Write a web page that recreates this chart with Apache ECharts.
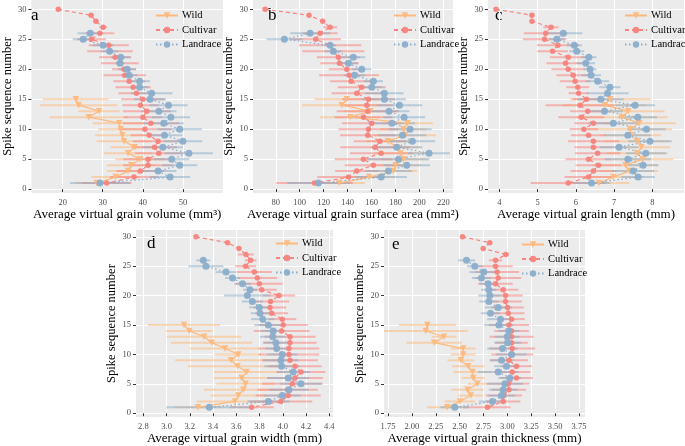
<!DOCTYPE html>
<html><head><meta charset="utf-8">
<script src="https://cdn.jsdelivr.net/npm/echarts@6/dist/echarts.min.js"></script>
<style>html,body{margin:0;padding:0;background:#fff}#c{width:685px;height:446px}</style>
</head><body><div id="c"></div>
<script>
// ---- spike sequence numbers (y values) ----
const spikeCultivar = [30,29,28,27,26,25,24,23,22,21,20,19,18,17,16,15,14,13,12,11,10,9,8,7,6,5,4,3,2,1];
const spikeLandrace = [26,25,24,23,22,21,20,19,18,17,16,15,14,13,12,11,10,9,8,7,6,5,4,3,2,1];
const spikeWild = [15,14,13,12,11,10,9,8,7,6,5,4,3,2,1];
const spikeTicks = [0,5,10,15,20,25,30];

// ---- a: volume ----
const volCultivar = [18.9,27.1,28.3,30.1,29.3,27.2,31.5,31.8,33.1,34.3,35.3,35.5,36.6,37.6,38.4,40.0,39.4,41.0,40.0,42.0,40.5,41.6,43.8,42.9,44.0,41.3,41.3,39.4,37.8,31.0];
const volCultivarSd = [0,0,0.5,1.0,3.6,3.6,5.0,5.7,4.0,4.7,3.0,5.3,4.0,4.4,4.5,5.4,4.5,6.0,4.8,7.0,6.6,4.6,6.2,5.6,6.0,6.2,6.2,6.0,6.0,6.2];
const volLandrace = [26.9,25.1,30.1,31.7,34.5,34.3,36.1,36.6,39.2,39.2,42.2,41.8,46.4,44.0,47.0,45.2,49.2,45.4,50.0,45.0,51.5,47.2,49.2,43.8,46.8,29.3];
const volLandraceSd = [3.2,2.6,2.6,2.2,2.4,1.2,2.2,2.0,2.6,2.2,5.2,4.0,4.8,4.4,4.8,5.0,5.5,4.4,4.8,5.0,6.0,4.4,4.4,4.6,5.0,7.5];
const volWild = [23.3,24.0,29.1,26.5,34.1,34.5,34.9,35.3,38.0,36.3,39.3,37.1,36.3,33.2,28.5];
const volWildSd = [8.2,9.6,5.2,9.8,6.6,5.6,6.8,6.8,6.0,6.0,6.2,6.0,5.2,6.0,5.4];
const volTicks = [20,30,40,50];

// ---- b: surface area ----
const areaCultivar = [71.1,107.8,119.2,125.4,117.0,113.4,125.4,128.1,132.3,133.2,139.3,141.2,142.9,151.8,147.6,157.4,156.0,156.8,153.2,160.2,157.4,156.8,167.1,162.9,168.0,153.2,161.5,147.6,140.7,112.3];
const areaCultivarSd = [0,0,2,5.8,14.6,21,26,26,18,16,15,25,17.5,20,21,22,22,26,24,25,25,23,22,29,26,24,24,18,26,32];
const areaLandrace = [108.7,87.2,125.4,128.1,144.8,140.7,151.8,145.7,161.5,160.2,170.7,170.7,183.3,174.6,187.2,176.9,192.2,185.8,194.1,181.0,208.0,182.4,189.4,174.1,168.0,115.6];
const areaLandraceSd = [16.7,15,5,7,10,8,8,9,8,9,16,18,19,17,17.5,19.5,18,20,19,21.5,17.4,26,19.5,19.5,21.5,26];
const areaWild = [139.3,135.1,158.8,142.1,190.2,186.6,188.0,173.5,181.0,184.0,187.0,180.0,178.0,158.0,133.0];
const areaWildSd = [27,33,22,25,21,19.5,26,18,20,21.5,19.5,21,20,21,21.5];
const areaTicks = [80,100,120,140,160,180,200,220];

// ---- c: length ----
const lenCultivar = [3.91,4.85,4.85,5.35,5.21,5.18,5.53,5.39,5.80,5.73,5.80,5.93,5.98,6.05,6.07,6.28,6.11,6.31,6.14,6.46,6.21,6.33,6.46,6.46,6.57,6.33,6.59,6.46,6.33,5.80];
const lenCultivarSd = [0,0,0,0.2,0.57,0.57,0.55,0.4,0.48,0.5,0.44,0.44,0.4,0.3,0.26,0.37,0.9,0.46,0.6,0.5,0.37,0.46,0.67,0.5,0.6,0.6,0.6,0.6,0.63,0.98];
const lenLandrace = [5.67,5.50,5.96,6.02,6.34,6.26,6.37,6.40,6.57,6.89,6.83,6.65,7.55,6.75,7.62,6.98,7.85,7.36,7.94,7.13,7.83,7.36,7.76,7.50,7.63,6.41];
const lenLandraceSd = [0.5,0.2,0.2,0.2,0.2,0.24,0.17,0.26,0.3,0.28,0.55,0.6,0.52,0.48,0.5,0.65,0.5,0.6,0.57,0.5,0.52,0.6,0.4,0.55,0.44,0.48];
const lenWild = [6.9,6.75,7.37,7.2,7.66,7.42,7.44,7.6,7.72,7.6,7.75,7.3,7.4,6.98,6.6];
const lenWildSd = [1.05,1.1,0.95,1.2,0.95,1.1,0.8,0.85,0.75,0.8,0.8,0.85,0.75,0.8,0.8];
const lenTicks = [4,5,6,7,8];

// ---- d: width ----
const widCultivar = [3.253,3.525,3.623,3.683,3.723,3.680,3.755,3.781,3.798,3.818,3.967,3.895,3.890,3.904,3.996,4.004,3.990,4.062,4.062,4.053,4.053,4.062,4.105,4.156,4.105,4.082,4.042,4.047,3.984,3.732];
const widCultivarSd = [0,0,0,0.068,0.05,0.09,0.15,0.17,0.2,0.13,0.14,0.16,0.14,0.14,0.12,0.21,0.24,0.22,0.23,0.26,0.26,0.24,0.23,0.21,0.24,0.26,0.26,0.28,0.27,0.19];
const widLandrace = [3.316,3.339,3.511,3.568,3.654,3.718,3.695,3.738,3.798,3.804,3.827,3.875,3.918,3.913,3.941,3.947,3.996,3.984,3.990,4.090,4.047,4.156,4.053,3.996,3.875,3.368];
const widLandraceSd = [0.06,0.15,0.09,0.065,0.07,0.06,0.2,0.09,0.09,0.08,0.1,0.12,0.1,0.11,0.11,0.1,0.13,0.15,0.15,0.14,0.18,0.18,0.17,0.16,0.18,0.37];
const widWild = [3.150,3.196,3.322,3.388,3.503,3.617,3.554,3.611,3.689,3.646,3.680,3.660,3.617,3.589,3.27];
const widWildSd = [0.31,0.2,0.32,0.35,0.3,0.2,0.48,0.43,0.28,0.24,0.25,0.34,0.24,0.33,0.2];
const widTicks = [2.8,3.0,3.2,3.4,3.6,3.8,4.0,4.2,4.4];

// ---- e: thickness ----
const thkCultivar = [2.530,2.816,2.747,2.984,2.876,2.876,2.893,2.904,2.876,2.956,2.981,2.981,3.002,3.009,3.044,3.016,3.044,3.044,3.044,3.051,3.051,3.016,3.096,3.051,3.096,3.009,3.016,2.963,2.956,2.792];
const thkCultivarSd = [0,0,0,0.03,0.07,0.18,0.23,0.24,0.18,0.16,0.18,0.17,0.17,0.17,0.14,0.21,0.18,0.23,0.17,0.24,0.22,0.2,0.16,0.19,0.17,0.22,0.18,0.19,0.18,0.24];
const thkLandrace = [2.572,2.659,2.753,2.729,2.799,2.806,2.816,2.806,2.904,2.823,2.928,2.911,3.016,2.998,3.002,2.949,3.044,2.939,2.991,2.904,3.026,2.974,2.956,2.939,2.844,2.449];
const thkLandraceSd = [0.09,0.08,0.15,0.1,0.09,0.08,0.12,0.1,0.14,0.1,0.14,0.15,0.11,0.13,0.14,0.16,0.16,0.12,0.13,0.21,0.12,0.19,0.15,0.14,0.14,0.15];
const thkWild = [2.163,2.145,2.337,2.233,2.537,2.537,2.512,2.589,2.635,2.642,2.687,2.582,2.617,2.502,2.369];
const thkWildSd = [0.3,0.44,0.13,0.29,0.13,0.13,0.14,0.17,0.2,0.12,0.1,0.17,0.13,0.16,0.21];
const thkTicks = [1.75,2.00,2.25,2.50,2.75,3.00,3.25,3.50,3.75];

const groupNames = ['Wild','Cultivar','Landrace'];
const yTitle = 'Spike sequence number';

// ---- layout / style (not data) ----
const FONT = '"Liberation Serif","DejaVu Serif",serif';
const styles = {
  Wild:     {color:'#FDB97D', symbol:'triangle', rotate:180, size:6.5, dash:'solid'},
  Cultivar: {color:'#F7837D', symbol:'circle', rotate:0, size:5.5, dash:[4,3]},
  Landrace: {color:'#8AAECB', symbol:'circle', rotate:0, size:7, dash:[1.5,2.5]}
};
const panels = [
  {letter:'a', grid:{left:25,top:0,width:198,height:193}, xr:[12.2,60], yr:[-0.65,31.55], ticks:volTicks, dec:0,
   title:'Average virtual grain volume (mm³)', lp:[36,17], leg:[150,5],
   d:{Wild:[volWild,volWildSd],Cultivar:[volCultivar,volCultivarSd],Landrace:[volLandrace,volLandraceSd]}},
  {letter:'b', grid:{left:253,top:0,width:200,height:193}, xr:[61,228], yr:[-0.65,31.55], ticks:areaTicks, dec:0,
   title:'Average virtual grain surface area (mm²)', lp:[273,17], leg:[388,5],
   d:{Wild:[areaWild,areaWildSd],Cultivar:[areaCultivar,areaCultivarSd],Landrace:[areaLandrace,areaLandraceSd]}},
  {letter:'c', grid:{left:488,top:0,width:196,height:193}, xr:[3.70,8.83], yr:[-0.65,31.55], ticks:lenTicks, dec:0,
   title:'Average virtual grain length (mm)', lp:[500,17], leg:[619,5],
   d:{Wild:[lenWild,lenWildSd],Cultivar:[lenCultivar,lenCultivarSd],Landrace:[lenLandrace,lenLandraceSd]}},
  {letter:'d', grid:{left:136,top:230,width:197,height:192}, xr:[2.737,4.432], yr:[-0.66,31.16], ticks:widTicks, dec:1,
   title:'Average virtual grain width (mm)', lp:[152,245], leg:[270,233],
   d:{Wild:[widWild,widWildSd],Cultivar:[widCultivar,widCultivarSd],Landrace:[widLandrace,widLandraceSd]}},
  {letter:'e', grid:{left:384,top:230,width:201,height:192}, xr:[1.708,3.813], yr:[-0.66,31.16], ticks:thkTicks, dec:2,
   title:'Average virtual grain thickness (mm)', lp:[397,246], leg:[516,234],
   d:{Wild:[thkWild,thkWildSd],Cultivar:[thkCultivar,thkCultivarSd],Landrace:[thkLandrace,thkLandraceSd]}}
];
const spikes = {Wild:spikeWild, Cultivar:spikeCultivar, Landrace:spikeLandrace};

function errItem(params, api){
  const y = api.value(2);
  const p1 = api.coord([api.value(0), y]);
  const p2 = api.coord([api.value(1), y]);
  return {type:'line', shape:{x1:p1[0],y1:p1[1],x2:p2[0],y2:p2[1]},
          style:{stroke: api.visual('color'), lineWidth:2, opacity:0.55}};
}

const option = {animation:false, backgroundColor:'#fff', grid:[], xAxis:[], yAxis:[], series:[], legend:[], graphic:[]};
panels.forEach((p, i) => {
  option.grid.push(Object.assign({show:true, backgroundColor:'#EBEBEB', borderWidth:0}, p.grid));
  option.xAxis.push({type:'value', gridIndex:i, min:p.xr[0], max:p.xr[1],
    name:p.title, nameLocation:'middle', nameGap:11,
    nameTextStyle:{fontFamily:FONT, fontSize:13, color:'#000', verticalAlign:'top'},
    axisLine:{show:false},
    axisTick:{show:true, length:3, lineStyle:{color:'#333'}, customValues:p.ticks},
    axisLabel:{color:'#4d4d4d', fontFamily:FONT, fontSize:8.5, margin:5, customValues:p.ticks,
      formatter:v => v.toFixed(p.dec)},
    splitLine:{show:true, lineStyle:{color:'#fff', width:1}}});
  option.yAxis.push({type:'value', gridIndex:i, min:p.yr[0], max:p.yr[1],
    name:yTitle, nameLocation:'middle', nameGap:12, nameRotate:90,
    nameTextStyle:{fontFamily:FONT, fontSize:12.5, color:'#000'},
    axisLine:{show:false},
    axisTick:{show:true, length:3, lineStyle:{color:'#333'}, customValues:spikeTicks},
    axisLabel:{color:'#4d4d4d', fontFamily:FONT, fontSize:8.5, margin:5, customValues:spikeTicks},
    splitLine:{show:true, lineStyle:{color:'#fff', width:1}}});
  groupNames.forEach(g => {
    const st = styles[g], mean = p.d[g][0], sd = p.d[g][1], sp = spikes[g];
    option.series.push({type:'custom', name:g+' error', xAxisIndex:i, yAxisIndex:i, clip:true, z:2,
      renderItem:errItem, encode:{x:[0,1], y:2}, itemStyle:{color:st.color},
      data: sp.map((s,k) => [mean[k]-sd[k], mean[k]+sd[k], s])});
  });
  groupNames.forEach(g => {
    const st = styles[g], mean = p.d[g][0], sp = spikes[g];
    option.series.push({type:'line', name:g, xAxisIndex:i, yAxisIndex:i, z:3,
      symbol:st.symbol, symbolSize:st.size, symbolRotate:st.rotate, showSymbol:true,
      itemStyle:{color:st.color, opacity:0.95},
      lineStyle:{color:st.color, width:1.2, type:st.dash},
      data: sp.map((s,k) => [mean[k], s])});
  });
  option.legend.push({left:p.leg[0], top:p.leg[1], orient:'vertical', data:groupNames,
    itemWidth:22, itemHeight:8, itemGap:3.5,
    textStyle:{fontFamily:FONT, fontSize:10.5, color:'#000', padding:[0,0,0,-1]}});
  option.graphic.push({type:'text', left:p.lp[0]-5, top:p.lp[1]-10,
    style:{text:p.letter, font:'17px '+FONT, fill:'#000'}});
});
const chart = echarts.init(document.getElementById('c'), null, {renderer:'canvas'});
chart.setOption(option);
</script></body></html>
